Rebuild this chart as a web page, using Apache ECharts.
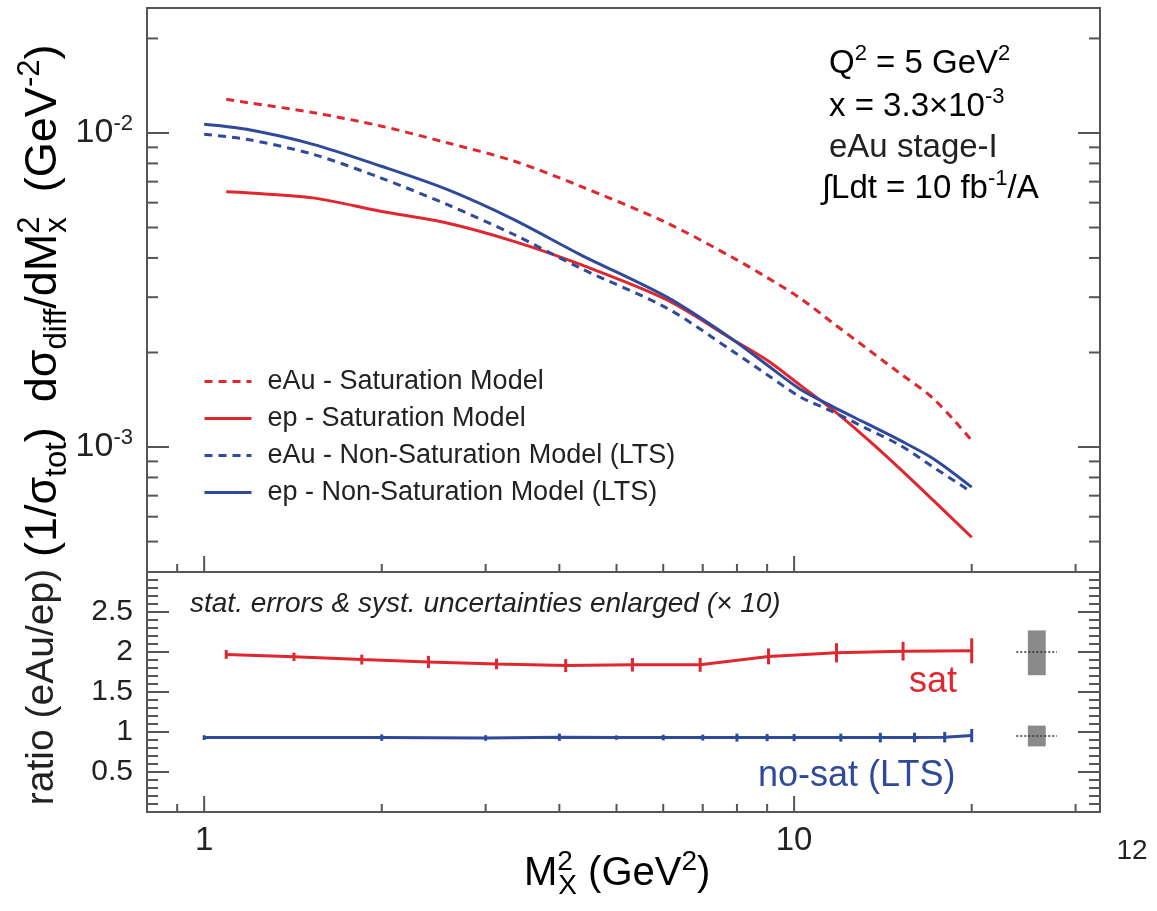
<!DOCTYPE html>
<html><head><meta charset="utf-8">
<script src="https://cdn.jsdelivr.net/npm/echarts@6/dist/echarts.min.js"></script>
<style>html,body{margin:0;padding:0;background:#fff}#c{width:1157px;height:911px}</style>
</head><body><div id="c"></div>
<script>
// ---------- data ----------
const satCurveX = [1.09, 1.18, 1.53, 1.99, 2.58, 3.35, 4.34, 6.09, 7.89, 8.99, 10.24, 11.65, 13.28, 15.12, 17.22, 20.0];
const eAuSat    = [0.01281, 0.01251, 0.01161, 0.01053, 0.00931, 0.00814, 0.00677, 0.00517, 0.00400, 0.00347, 0.002977, 0.002477, 0.00206, 0.001715, 0.001427, 0.00105];
const epSat     = [0.006494, 0.006446, 0.006214, 0.005634, 0.005170, 0.004519, 0.003815, 0.002942, 0.002193, 0.001892, 0.001574, 0.001310, 0.001063, 0.000852, 0.000676, 0.000516];
const ltsCurveX = [1.0, 1.18, 1.53, 1.99, 2.58, 3.35, 4.34, 6.09, 7.89, 8.99, 10.24, 11.65, 13.28, 15.12, 17.22, 20.0];
const eAuLTS    = [0.00990, 0.00955, 0.00855, 0.00720, 0.00592, 0.00475, 0.003712, 0.002767, 0.002011, 0.001702, 0.001444, 0.001294, 0.001144, 0.001013, 0.000863, 0.000718];
const epLTS     = [0.01066, 0.01027, 0.00920, 0.00785, 0.00661, 0.00530, 0.00410, 0.003000, 0.002193, 0.001828, 0.001528, 0.001342, 0.001187, 0.001050, 0.000918, 0.000745];

const satRatioX   = [1.09, 1.42, 1.85, 2.40, 3.13, 4.10, 5.32, 6.93, 9.05, 11.8, 15.3, 20.0];
const satRatio    = [1.97, 1.94, 1.905, 1.875, 1.85, 1.83, 1.84, 1.84, 1.945, 1.99, 2.01, 2.015];
const satRatioErr = [0.055, 0.052, 0.062, 0.077, 0.066, 0.081, 0.085, 0.087, 0.10, 0.12, 0.116, 0.156];
const ltsRatioX   = [1, 2, 3, 4, 5, 6, 7, 8, 9, 10, 12, 14, 16, 18, 20];
const ltsRatio    = [0.93, 0.93, 0.925, 0.935, 0.93, 0.93, 0.93, 0.93, 0.93, 0.93, 0.93, 0.93, 0.93, 0.935, 0.955];
const ltsRatioErr = [0.03, 0.04, 0.035, 0.045, 0.027, 0.035, 0.037, 0.05, 0.045, 0.045, 0.05, 0.06, 0.06, 0.066, 0.083];

// systematic uncertainty boxes: [xLo, xHi, yLo, yHi, yMid, lineXLo, lineXHi]
const systBoxes = [[24.9, 26.7, 1.71, 2.27, 2.0, 23.8, 27.9], [24.9, 26.7, 0.82, 1.08, 0.95, 23.8, 27.9]];

const legendNames = ['eAu - Saturation Model', 'ep - Saturation Model', 'eAu - Non-Saturation Model (LTS)', 'ep - Non-Saturation Model (LTS)'];

const xMajorTicks = [1, 10];
const xMinorTicks = [0.9, 2, 3, 4, 5, 6, 7, 8, 9, 20, 30];
const yTopMajorTicks = [0.001, 0.01];
const yTopMinorTicks = [0.0005, 0.0006, 0.0007, 0.0008, 0.0009, 0.002, 0.003, 0.004, 0.005, 0.006, 0.007, 0.008, 0.009, 0.02];
const yBotMajorTicks = [0.5, 1, 1.5, 2, 2.5];
const yBotMinorTicks = [0.1,0.2,0.3,0.4,0.6,0.7,0.8,0.9,1.1,1.2,1.3,1.4,1.6,1.7,1.8,1.9,2.1,2.2,2.3,2.4,2.6,2.7,2.8,2.9];

// ---------- styling ----------
const FONT = 'Liberation Sans, Arial, Helvetica, sans-serif';
const RED = '#e0262e';
const BLUE = '#2f4a9b';
const FRAME = '#555';
const TXT = '#222';

const zip = (xs, ys) => xs.map((x, i) => [x, ys[i]]);

function supRich(fs, r) {
  r = r || 0.66;
  const s = Math.round(fs * r), pad = Math.round(fs * 0.6);
  return {
    n: {fontSize: fs, fontFamily: FONT, color: TXT, align: 'left'},
    sup: {fontSize: s, fontFamily: FONT, color: TXT, verticalAlign: 'top', padding: [0, 0, pad, 0], align: 'left'},
    supw: {fontSize: s, fontFamily: FONT, color: TXT, verticalAlign: 'top', padding: [0, 0, pad, 0], width: 1, align: 'left'},
    sub: {fontSize: s, fontFamily: FONT, color: TXT, verticalAlign: 'bottom', padding: [pad, 0, 0, 0], align: 'left'}
  };
}

function tickRender(params, api) {
  const cs = params.coordSys;
  const kind = api.value(2);
  const p = api.coord([api.value(0), api.value(1)]);
  const st = {stroke: FRAME, lineWidth: 2};
  if (kind < 2) {
    const len = kind === 0 ? 16 : 8;
    const yb = cs.y + cs.height;
    return {type: 'line', shape: {x1: p[0], y1: yb, x2: p[0], y2: yb - len}, style: st};
  }
  const len = kind === 2 ? 22 : 11;
  return {type: 'group', children: [
    {type: 'line', shape: {x1: cs.x, y1: p[1], x2: cs.x + len, y2: p[1]}, style: st},
    {type: 'line', shape: {x1: cs.x + cs.width, y1: p[1], x2: cs.x + cs.width - len, y2: p[1]}, style: st}
  ]};
}
function tickData(xMaj, xMin, yMaj, yMin, yRef, xRef) {
  return [].concat(
    xMaj.map(v => [v, yRef, 0]), xMin.map(v => [v, yRef, 1]),
    yMaj.map(v => [xRef, v, 2]), yMin.map(v => [xRef, v, 3]));
}
function errRender(color) {
  return function (params, api) {
    const x = api.value(0), y = api.value(1), e = api.value(2);
    const a = api.coord([x, y - e]), b = api.coord([x, y + e]);
    return {type: 'line', shape: {x1: a[0], y1: a[1], x2: b[0], y2: b[1]}, style: {stroke: color, lineWidth: 3}};
  };
}
function boxRender(params, api) {
  const p1 = api.coord([api.value(0), api.value(3)]);
  const p2 = api.coord([api.value(1), api.value(2)]);
  const l1 = api.coord([api.value(5), api.value(4)]);
  const l2 = api.coord([api.value(6), api.value(4)]);
  return {type: 'group', children: [
    {type: 'rect', shape: {x: p1[0], y: p1[1], width: p2[0] - p1[0], height: p2[1] - p1[1]}, style: {fill: '#8a8a8a'}},
    {type: 'line', shape: {x1: l1[0], y1: l1[1], x2: l2[0], y2: l2[1]}, style: {stroke: '#333', lineWidth: 1.5, lineDash: [2, 2]}}
  ]};
}

const gridL = 147, gridR = 1157 - 1100;
const chart = echarts.init(document.getElementById('c'), null, {renderer: 'canvas'});

const tickLabelRich = {
  b: {fontSize: 34, fontFamily: FONT, color: TXT},
  s: {fontSize: 22, fontFamily: FONT, color: TXT, verticalAlign: 'top', padding: [0, 0, 18, 0]}
};

const option = {
  animation: false,
  backgroundColor: '#fff',
  grid: [
    {left: gridL, right: gridR, top: 8, height: 564, show: true, borderColor: FRAME, borderWidth: 2, backgroundColor: 'transparent'},
    {left: gridL, right: gridR, top: 572, height: 240, show: true, borderColor: FRAME, borderWidth: 2, backgroundColor: 'transparent'}
  ],
  xAxis: [
    {type: 'log', gridIndex: 0, min: 0.8, max: 33, axisLine: {show: false}, axisTick: {show: false}, splitLine: {show: false}, axisLabel: {show: false}},
    {type: 'log', gridIndex: 1, min: 0.8, max: 33, axisLine: {show: false}, axisTick: {show: false}, splitLine: {show: false},
      axisLabel: {show: true, margin: 12, fontSize: 33, fontFamily: FONT, color: TXT, showMinLabel: false, showMaxLabel: false,
        formatter: v => { const l = Math.log10(v); return Math.abs(l - Math.round(l)) < 1e-6 ? String(Math.round(v)) : ''; }}}
  ],
  yAxis: [
    {type: 'log', gridIndex: 0, min: 0.0004, max: 0.025, axisLine: {show: false}, axisTick: {show: false}, splitLine: {show: false},
      axisLabel: {show: true, margin: 14, showMinLabel: false, showMaxLabel: false, rich: tickLabelRich,
        formatter: v => { const l = Math.log10(v); return Math.abs(l - Math.round(l)) < 1e-6 ? '{b|10}{s|' + Math.round(l) + '}' : ''; }}},
    {type: 'value', gridIndex: 1, min: 0, max: 3, interval: 0.5, axisLine: {show: false}, axisTick: {show: false}, splitLine: {show: false},
      axisLabel: {show: true, margin: 14, fontSize: 30, fontFamily: FONT, color: TXT,
        formatter: v => (v <= 0 || v >= 3) ? '' : String(v)}}
  ],
  legend: {
    left: 203, top: 368, orient: 'vertical', itemWidth: 47, itemHeight: 14, itemGap: 10, padding: 0,
    itemStyle: {opacity: 0}, lineStyle: {width: 3},
    textStyle: {fontSize: 27, fontFamily: FONT, color: TXT, padding: [0, 0, 0, 11]},
    data: legendNames, selectedMode: false
  },
  series: [
    {name: legendNames[0], type: 'line', xAxisIndex: 0, yAxisIndex: 0, data: zip(satCurveX, eAuSat), symbol: 'none', smooth: 0.3,
      lineStyle: {color: RED, width: 3, type: [8, 6]}, itemStyle: {color: RED}},
    {name: legendNames[1], type: 'line', xAxisIndex: 0, yAxisIndex: 0, data: zip(satCurveX, epSat), symbol: 'none', smooth: 0.3,
      lineStyle: {color: RED, width: 3}, itemStyle: {color: RED}},
    {name: legendNames[2], type: 'line', xAxisIndex: 0, yAxisIndex: 0, data: zip(ltsCurveX, eAuLTS), symbol: 'none', smooth: 0.3,
      lineStyle: {color: BLUE, width: 3, type: [8, 6]}, itemStyle: {color: BLUE}},
    {name: legendNames[3], type: 'line', xAxisIndex: 0, yAxisIndex: 0, data: zip(ltsCurveX, epLTS), symbol: 'none', smooth: 0.3,
      lineStyle: {color: BLUE, width: 3}, itemStyle: {color: BLUE}},
    {name: 'satRatio', type: 'line', xAxisIndex: 1, yAxisIndex: 1, data: zip(satRatioX, satRatio), symbol: 'none',
      lineStyle: {color: RED, width: 3}},
    {name: 'ltsRatio', type: 'line', xAxisIndex: 1, yAxisIndex: 1, data: zip(ltsRatioX, ltsRatio), symbol: 'none',
      lineStyle: {color: BLUE, width: 3}},
    {name: 'satErr', type: 'custom', xAxisIndex: 1, yAxisIndex: 1, encode: {x: 0, y: 1}, renderItem: errRender(RED),
      data: satRatioX.map((x, i) => [x, satRatio[i], satRatioErr[i]]), z: 3},
    {name: 'ltsErr', type: 'custom', xAxisIndex: 1, yAxisIndex: 1, encode: {x: 0, y: 1}, renderItem: errRender(BLUE),
      data: ltsRatioX.map((x, i) => [x, ltsRatio[i], ltsRatioErr[i]]), z: 3},
    {name: 'syst', type: 'custom', xAxisIndex: 1, yAxisIndex: 1, encode: {x: 0, y: 2}, renderItem: boxRender, data: systBoxes, z: 3},
    {name: 'ticksTop', type: 'custom', xAxisIndex: 0, yAxisIndex: 0, encode: {x: 0, y: 1}, renderItem: tickRender, silent: true, z: 5,
      data: tickData(xMajorTicks, xMinorTicks, yTopMajorTicks, yTopMinorTicks, 0.001, 1)},
    {name: 'ticksBot', type: 'custom', xAxisIndex: 1, yAxisIndex: 1, encode: {x: 0, y: 1}, renderItem: tickRender, silent: true, z: 5,
      data: tickData(xMajorTicks, xMinorTicks, yBotMajorTicks, yBotMinorTicks, 1, 1)}
  ],
  graphic: [
    {type: 'text', left: 829, top: 43, style: {text: '{n|Q}{sup|2}{n| = 5 GeV}{sup|2}', rich: supRich(33)}},
    {type: 'text', left: 829, top: 86, style: {text: '{n|x = 3.3×10}{sup|-3}', rich: supRich(33)}},
    {type: 'text', left: 829, top: 131, style: {text: 'eAu stage-I', fontSize: 33, fontFamily: FONT, fill: TXT}},
    {type: 'text', left: 822, top: 168, style: {text: '{n|∫Ldt = 10 fb}{sup|-1}{n|/A}', rich: supRich(33)}},
    {type: 'text', x: 190, y: 604, style: {text: 'stat. errors & syst. uncertainties enlarged (× 10)', fontSize: 28, fontStyle: 'italic', fontFamily: FONT, fill: TXT, verticalAlign: 'middle'}},
    {type: 'text', x: 909, y: 682, style: {text: 'sat', fontSize: 36, fontFamily: FONT, fill: RED, verticalAlign: 'middle'}},
    {type: 'text', x: 758, y: 776, style: {text: 'no-sat (LTS)', fontSize: 36, fontFamily: FONT, fill: BLUE, verticalAlign: 'middle'}},
    {type: 'text', x: 1132, y: 851, style: {text: '12', fontSize: 28, fontFamily: FONT, fill: TXT, align: 'center', verticalAlign: 'middle'}},
    {type: 'text', x: 524, y: 874, style: {text: '{n|M}{supw|2}{sub|X}{n| (GeV}{sup|2}{n|)}', rich: supRich(40, 0.7), align: 'left', verticalAlign: 'middle'}},
    {type: 'text', x: 44, y: 557, rotation: Math.PI / 2, style: {text: '{n|(1/σ}{sub|tot}{n|)  dσ}{sub|diff}{n|/dM}{supw|2}{sub|x}{n|  (GeV}{sup|-2}{n|)}', rich: supRich(45, 0.7), align: 'left', verticalAlign: 'middle'}},
    {type: 'text', x: 42, y: 687, rotation: Math.PI / 2, style: {text: 'ratio (eAu/ep)', fontSize: 39, fontFamily: FONT, fill: TXT, align: 'center', verticalAlign: 'middle'}}
  ]
};
chart.setOption(option);
</script>
</body></html>
